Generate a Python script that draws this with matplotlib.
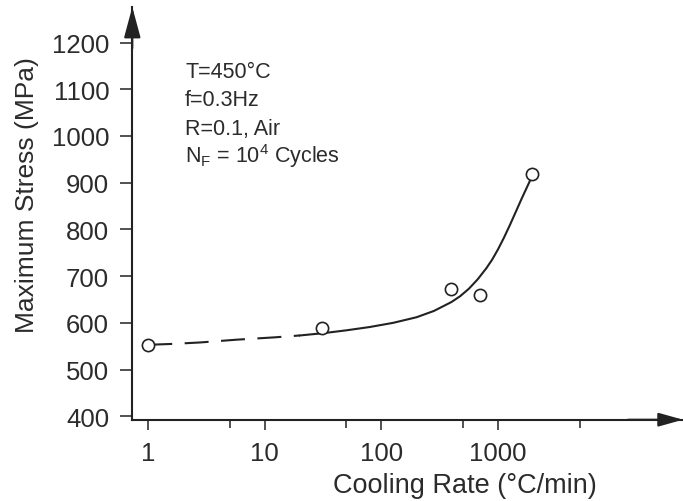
import numpy as np
import matplotlib
matplotlib.use("Agg")
import matplotlib.pyplot as plt
from matplotlib.ticker import NullFormatter

plt.rcParams['font.family'] = ['Liberation Sans', 'DejaVu Sans']
plt.rcParams['mathtext.fontset'] = 'custom'
plt.rcParams['mathtext.rm'] = 'Liberation Sans'
plt.rcParams['mathtext.it'] = 'Liberation Sans:italic'
plt.rcParams['mathtext.default'] = 'regular'

# measured points (cooling rate in C/min, max stress in MPa)
rate = [1, 31, 392, 700, 1950]
stress = [553, 588, 673, 660, 919]

# trend line: dashed extrapolation + solid fit
dash_x = [1, 1.64, 2.78, 5.76, 12.2, 20]
dash_y = [553, 555, 558, 564, 569, 573]
fit_x = [20, 32, 50, 79, 126, 200, 282, 398, 473, 562, 668, 794, 891,
         1000, 1122, 1259, 1413, 1585, 1950]
fit_y = [573, 578, 584, 591, 600, 612, 625.5, 644.5, 657, 673, 693, 717,
         735.5, 757.5, 782, 808.5, 836.5, 864.5, 913]

x_ticks = [1, 10, 100, 1000]
x_minor = [5, 50, 500, 5000]
y_ticks = [400, 500, 600, 700, 800, 900, 1000, 1100, 1200]
notes = ["T=450°C", "f=0.3Hz", "R=0.1, Air", "N$_F$ = 10$^4$ Cycles"]

ink = '#222222'
txt = '#2b2b2b'

fig = plt.figure(figsize=(6.83, 5.02), dpi=100)
ax = fig.add_axes([132.3 / 683, 81.3 / 502, 550.7 / 683, 412.7 / 502])

ax.plot(dash_x, dash_y, color=ink, lw=1.5, dashes=(11.5, 6))
ax.plot(fit_x, fit_y, color=ink, lw=1.5, solid_joinstyle='round')
ax.plot(rate, stress, 'o', ms=8.8, mfc='white', mec=ink, mew=1.2, zorder=5)

ax.set_xscale('log')
ax.set_xlim(0.73, 10 ** 4.586)
ax.set_ylim(392.7, 1276)

ax.set_xticks(x_ticks)
ax.set_xticklabels([str(t) for t in x_ticks])
ax.set_xticks(x_minor, minor=True)
ax.xaxis.set_minor_formatter(NullFormatter())
ax.set_yticks(y_ticks)

for s in ['top', 'right']:
    ax.spines[s].set_visible(False)
for s in ['left', 'bottom']:
    ax.spines[s].set_color(ink)
    ax.spines[s].set_linewidth(1.5)

ax.tick_params(axis='y', direction='out', length=8.6, width=1.1, color=ink,
               labelsize=18.5, labelcolor=txt, pad=8)
ax.tick_params(axis='x', which='major', direction='out', length=7.5, width=1.1,
               color=ink, labelsize=18.5, labelcolor=txt, pad=8)
ax.tick_params(axis='x', which='minor', direction='out', length=6, width=1.1,
               color=ink)

# arrow heads on the axes
ax.annotate('', xy=(1.0, 0), xytext=(0.9, 0), xycoords='axes fraction',
            arrowprops=dict(arrowstyle='-|>,head_length=1.0,head_width=0.28',
                            color=ink, lw=1.5, mutation_scale=15,
                            shrinkA=0, shrinkB=0),
            annotation_clip=False)
ax.annotate('', xy=(0, 1.0), xytext=(0, 0.9), xycoords='axes fraction',
            arrowprops=dict(arrowstyle='-|>,head_length=1.0,head_width=0.27',
                            color=ink, lw=1.5, mutation_scale=19,
                            shrinkA=0, shrinkB=0),
            annotation_clip=False)

fig.text(465 / 683, 1 - 486 / 502, 'Cooling Rate (°C/min)', ha='center',
         va='center', fontsize=19.5, color=txt)
fig.text(26.7 / 683, 1 - 195 / 502, 'Maximum Stress (MPa)', ha='center',
         va='center', rotation=90, fontsize=19, color=txt)

for i, line in enumerate(notes):
    ax.text(0.0957, 0.831 - i * 0.069, line, transform=ax.transAxes,
            ha='left', va='baseline', fontsize=15.5, color=txt)

fig.savefig('out.png', dpi=100)
